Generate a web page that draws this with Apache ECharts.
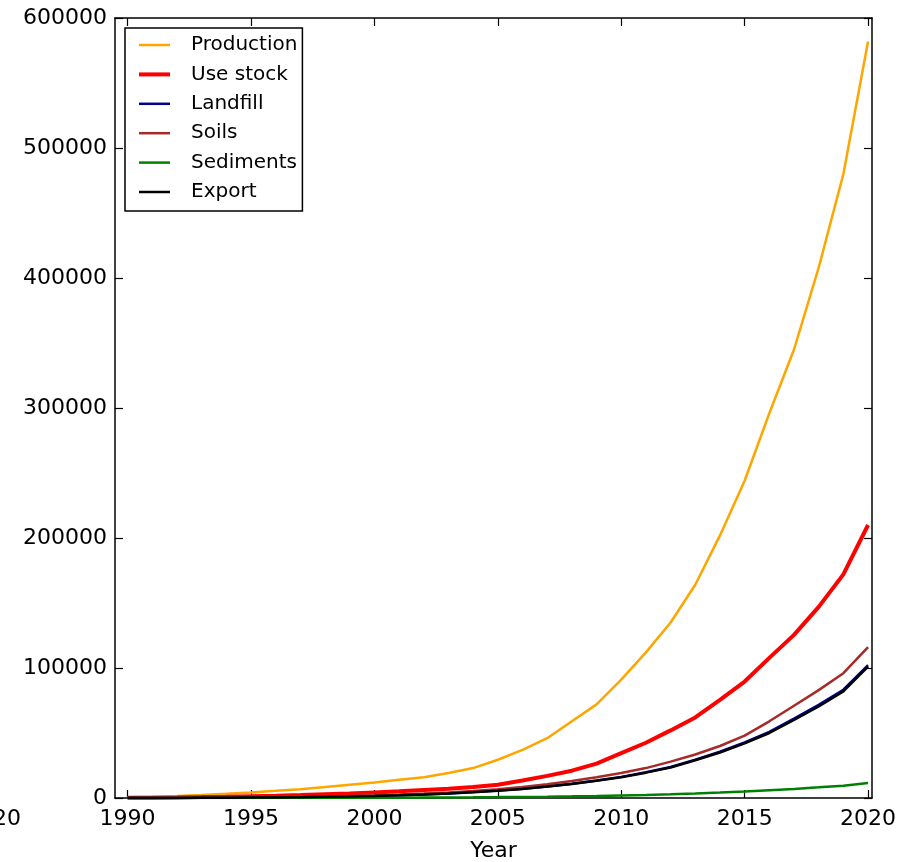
<!DOCTYPE html>
<html>
<head>
<meta charset="utf-8">
<script src="https://cdn.jsdelivr.net/npm/echarts@6/dist/echarts.min.js"></script>
<style>
  html, body { margin: 0; padding: 0; background: #fff; }
  #chart { width: 914px; height: 862px; }
</style>
</head>
<body>
<div id="chart"></div>
<script>
// Cumulative flows per compartment, 1990–2020.
const years = [1990, 1991, 1992, 1993, 1994, 1995, 1996, 1997, 1998, 1999, 2000,
  2001, 2002, 2003, 2004, 2005, 2006, 2007, 2008, 2009, 2010,
  2011, 2012, 2013, 2014, 2015, 2016, 2017, 2018, 2019, 2020];
const xTicks = [1990, 1995, 2000, 2005, 2010, 2015, 2020];

const production = [600, 1000, 1600, 2300, 3200, 4300, 5500, 6800, 8400, 10200, 12000,
  14000, 16000, 19200, 23000, 29400, 37000, 46000, 59000, 72000, 91000,
  112000, 135000, 164000, 202000, 244000, 296000, 345000, 408000, 480000, 582000];
const useStock = [100, 250, 450, 700, 1000, 1400, 1800, 2300, 2900, 3500, 4300,
  5100, 6100, 7100, 8400, 10200, 13500, 17000, 21000, 26500, 34500,
  42500, 52000, 62000, 75500, 89600, 107800, 125500, 147000, 172000, 210000];
const landfill = [10, 30, 70, 130, 210, 330, 470, 660, 910, 1220, 1620,
  2130, 2740, 3550, 4560, 5680, 7100, 8920, 10950, 13400, 16250,
  19800, 23900, 29500, 35600, 42700, 50900, 61000, 71600, 83300, 102300];
const soils = [20, 60, 120, 200, 300, 450, 650, 900, 1200, 1600, 2100,
  2700, 3400, 4300, 5400, 6800, 8500, 10500, 13000, 16000, 19200,
  23000, 28000, 33500, 40000, 48000, 59000, 71000, 83000, 96000, 116000];
const sediments = [1, 4, 8, 15, 25, 40, 55, 80, 110, 150, 200,
  260, 330, 420, 540, 680, 850, 1050, 1300, 1600, 2000,
  2400, 2900, 3500, 4200, 5000, 6000, 7000, 8200, 9500, 11500];
const exportFlow = [10, 30, 70, 130, 210, 320, 460, 650, 900, 1200, 1600,
  2100, 2700, 3500, 4500, 5600, 7000, 8800, 10800, 13200, 16000,
  19500, 23500, 29000, 35000, 42000, 50000, 60000, 70400, 82000, 101000];

const FONT = 'DejaVu Sans';
const X_MIN = 1989.49, X_MAX = 2020.16;

// name, data, colour, line width (legend uses the same width)
const SERIES = [
  ['Production', production, '#FFA500', 2.5],
  ['Use stock', useStock, '#FF0000', 4],
  ['Landfill', landfill, '#00008B', 2.5],
  ['Soils', soils, '#A52A2A', 2.5],
  ['Sediments', sediments, '#008000', 2.5],
  ['Export', exportFlow, '#000000', 2.5],
];

const pairs = (vals) => years.map((y, i) => [y, vals[i]]);
const plain = (v) => String(v); // no thousands separators, like matplotlib

function lineSeries([name, vals, color, width]) {
  return {
    name, type: 'line', data: pairs(vals),
    symbol: 'none', smooth: false, silent: true,
    xAxisIndex: 0, yAxisIndex: 0,
    lineStyle: { color, width },
    itemStyle: { color },
  };
}

// Matplotlib "classic" look: inward ticks on all four sides, labels only bottom/left.
const xAxisBase = {
  type: 'value', min: X_MIN, max: X_MAX,
  axisLine: { show: true, onZero: false, lineStyle: { color: '#000', width: 1.5 } },
  axisTick: { show: true, inside: true, length: 8, customValues: xTicks, lineStyle: { color: '#000', width: 1.2 } },
  splitLine: { show: false },
};
const yAxisBase = {
  type: 'value', min: 0, max: 600000, interval: 100000,
  axisLine: { show: true, onZero: false, lineStyle: { color: '#000', width: 1.5 } },
  axisTick: { show: true, inside: true, length: 8, lineStyle: { color: '#000', width: 1.2 } },
  splitLine: { show: false },
};

const chart = echarts.init(document.getElementById('chart'), null, { renderer: 'canvas' });
chart.setOption({
  animation: false,
  backgroundColor: '#fff',
  textStyle: { fontFamily: FONT },
  grid: { left: 115, right: 42, top: 18, bottom: 64, containLabel: false, outerBoundsMode: 'none' },
  legend: {
    orient: 'vertical', left: 125, top: 28,
    padding: [7, 5, 9, 12],
    itemWidth: 31, itemHeight: 2, itemGap: 9.4,
    itemStyle: { opacity: 0 }, // line only, no marker dot
    borderColor: '#000', borderWidth: 1.5, borderRadius: 0,
    backgroundColor: '#fff',
    textStyle: { fontFamily: FONT, fontSize: 20, color: '#000', lineHeight: 20, padding: [0, 0, 0, 16] },
    data: SERIES.map(([name, , color, width]) => ({ name, lineStyle: { color, width } })),
  },
  xAxis: [
    {
      ...xAxisBase, position: 'bottom',
      name: 'Year', nameLocation: 'middle', nameGap: 42,
      nameTextStyle: { fontFamily: FONT, fontSize: 22, color: '#000' },
      axisLabel: { show: true, customValues: xTicks, margin: 10, formatter: plain,
        fontFamily: FONT, fontSize: 22, color: '#000' },
    },
    { ...xAxisBase, position: 'top', axisLabel: { show: false } },
  ],
  yAxis: [
    {
      ...yAxisBase, position: 'left',
      axisLabel: { show: true, margin: 8, formatter: plain, fontFamily: FONT, fontSize: 22, color: '#000' },
    },
    { ...yAxisBase, position: 'right', axisLabel: { show: false } },
  ],
  graphic: [
    { type: 'text', left: -7, top: 808, silent: true,
      style: { text: '20', fontFamily: FONT, fontSize: 22, fill: '#000' } },
  ],
  series: SERIES.map(lineSeries),
});
</script>
</body>
</html>
